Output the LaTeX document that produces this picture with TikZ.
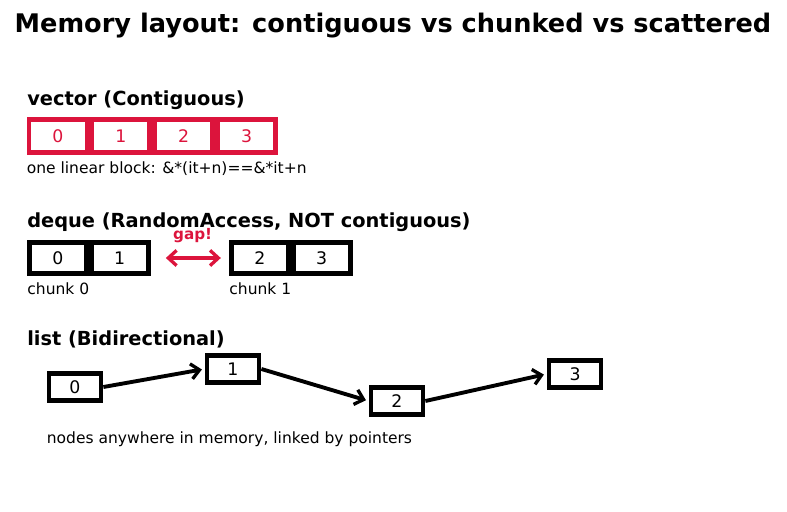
\documentclass[tikz,border=0pt]{standalone}
\usepackage{fontspec}
\setmainfont{DejaVu Sans}
\usepackage{xcolor}
\usetikzlibrary{positioning, arrows.meta}

\definecolor{crimson}{HTML}{DC143C}

\begin{document}
\begin{tikzpicture}[
    x=0.01in, y=-0.01in,
    >={Straight Barb[length=6pt, width=11pt, line width=2.4pt]},
    title/.style={font=\fontsize{18.5}{21}\selectfont\bfseries},
    heading/.style={anchor=west, inner sep=0pt, font=\fontsize{14}{16}\selectfont\bfseries},
    note/.style={anchor=north west, inner sep=0pt, font=\fontsize{11.2}{13}\selectfont},
    vcell/.style={draw=crimson, line width=3.5pt, text=crimson, minimum width=41.9pt, minimum height=23.9pt, font=\fontsize{12.5}{14}\selectfont},
    dcell/.style={draw, line width=3.5pt, minimum width=41.1pt, minimum height=22.5pt, font=\fontsize{12.5}{14}\selectfont},
    lbox/.style={draw, line width=3.5pt, minimum width=37.5pt, minimum height=19.5pt, font=\fontsize{12.5}{14}\selectfont},
    link/.style={->, line width=2.8pt, shorten >=2pt},
]
\useasboundingbox (0,0) rectangle (787,512);

% Title
\node[title] (ttl) at (393,26) {Memory layout: contiguous vs chunked vs scattered};

% vector
\node[heading] (hvec) at (27,100.5) {vector (Contiguous)};
\node[vcell] (v0) at (58,136) {0};
\node[vcell, right=0pt of v0] (v1) {1};
\node[vcell, right=0pt of v1] (v2) {2};
\node[vcell, right=0pt of v2] (v3) {3};
\node[note, below=4.5pt of v0.south west, anchor=north west] (vnote) {one linear block: \&*(it+n)==\&*it+n};

% deque
\node[heading] (hdeq) at (27,222) {deque (RandomAccess, NOT contiguous)};
\node[dcell] (d0) at (58,258) {0};
\node[dcell, right=0pt of d0] (d1) {1};
\node[dcell] (d2) at (260,258) {2};
\node[dcell, right=0pt of d2] (d3) {3};
\node[note, below=4.5pt of d0.south west, anchor=north west] (c0) {chunk 0};
\node[note, below=4.5pt of d2.south west, anchor=north west] (c1) {chunk 1};

\draw[<->, crimson, line width=2.6pt, shorten <=11pt, shorten >=6pt] (d1) -- (d2)
    node[midway, above=6.5pt, xshift=2pt, font=\fontsize{11}{13}\selectfont\bfseries] (gap) {gap!};

% list
\node[heading] (hlst) at (27,339.5) {list (Bidirectional)};
\node[lbox] (l0) at (75,387) {0};
\node[lbox] (l1) at (233,369) {1};
\node[lbox] (l2) at (397,401) {2};
\node[lbox] (l3) at (575,374) {3};

\draw[link] (l0.east) -- (l1.west);
\draw[link] (l1.east) -- (l2.west);
\draw[link] (l2.east) -- (l3.west);

\node[note, below=20.5pt of l0.south west, anchor=north west] (lnote) {nodes anywhere in memory, linked by pointers};

\end{tikzpicture}
\end{document}
